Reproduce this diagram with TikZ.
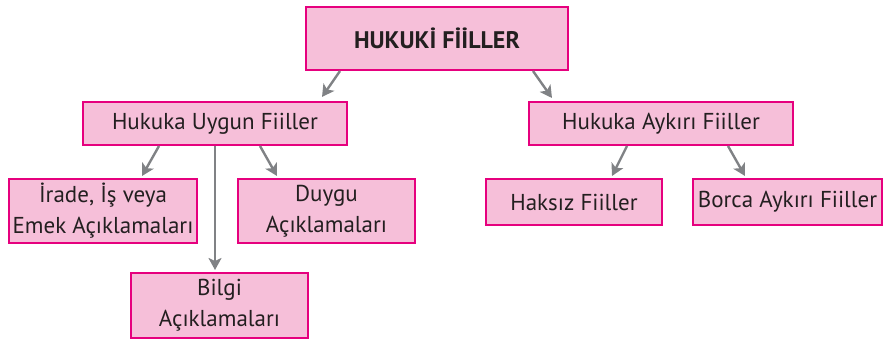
\documentclass[tikz,border=0pt]{standalone}
\usepackage{fontspec}
\setmainfont{PT Sans}
\usetikzlibrary{arrows.meta}
\definecolor{boxfill}{HTML}{F6BFD9}
\definecolor{boxline}{HTML}{E6007E}
\definecolor{arrowgray}{HTML}{808285}
\definecolor{txt}{HTML}{231F20}
\begin{document}
\begin{tikzpicture}[x=1pt,y=-1pt,
  box/.style={draw=boxline,fill=boxfill,line width=2pt,text=txt,
    font=\fontsize{23}{31}\selectfont,align=center,inner sep=0pt},
  link/.style={draw=arrowgray,line width=2.4pt,
    -{Stealth[length=12pt,width=13pt,inset=3pt]}}]
\useasboundingbox (0,0) rectangle (885,342);
% boxes
\node[box,minimum width=262,minimum height=63,font=\fontsize{24}{31}\selectfont\bfseries]
  (top) at (437,38.5) {HUKUKİ FİİLLER};
\node[box,minimum width=264,minimum height=43] (uygun) at (215,123.5) {Hukuka Uygun Fiiller};
\node[box,minimum width=264,minimum height=43] (aykiri) at (661,123.5) {Hukuka Aykırı Fiiller};
\node[box,minimum width=188,minimum height=64] (irade) at (103,211) {İrade, İş veya\\Emek Açıklamaları};
\node[box,minimum width=177,minimum height=64] (duygu) at (326.5,211) {Duygu\\Açıklamaları};
\node[box,minimum width=177,minimum height=65] (bilgi) at (219.5,305.5) {Bilgi\\Açıklamaları};
\node[box,minimum width=176,minimum height=46] (haksiz) at (574,202) {Haksız Fiiller};
\node[box,minimum width=189,minimum height=46] (borca) at (787.5,202) {Borca Aykırı Fiiller};
% connectors
\draw[link] (top.south -| 340,0) -- ([yshift=4pt]uygun.north -| 322,0);
\draw[link] (top.south -| 533,0) -- ([yshift=3pt]aykiri.north -| 552,0);
\draw[link] (uygun.south -| 159,0) -- ([yshift=2pt]irade.north -| 142,0);
\draw[link] (uygun.south -| 260,0) -- ([yshift=2pt]duygu.north -| 277,0);
\draw[link] (uygun.south) -- ([yshift=2pt]uygun.south |- bilgi.north);
\draw[link] (aykiri.south -| 627,0) -- ([yshift=2pt]haksiz.north -| 612,0);
\draw[link] (aykiri.south -| 728,0) -- ([yshift=2pt]borca.north -| 745,0);
\end{tikzpicture}
\end{document}
